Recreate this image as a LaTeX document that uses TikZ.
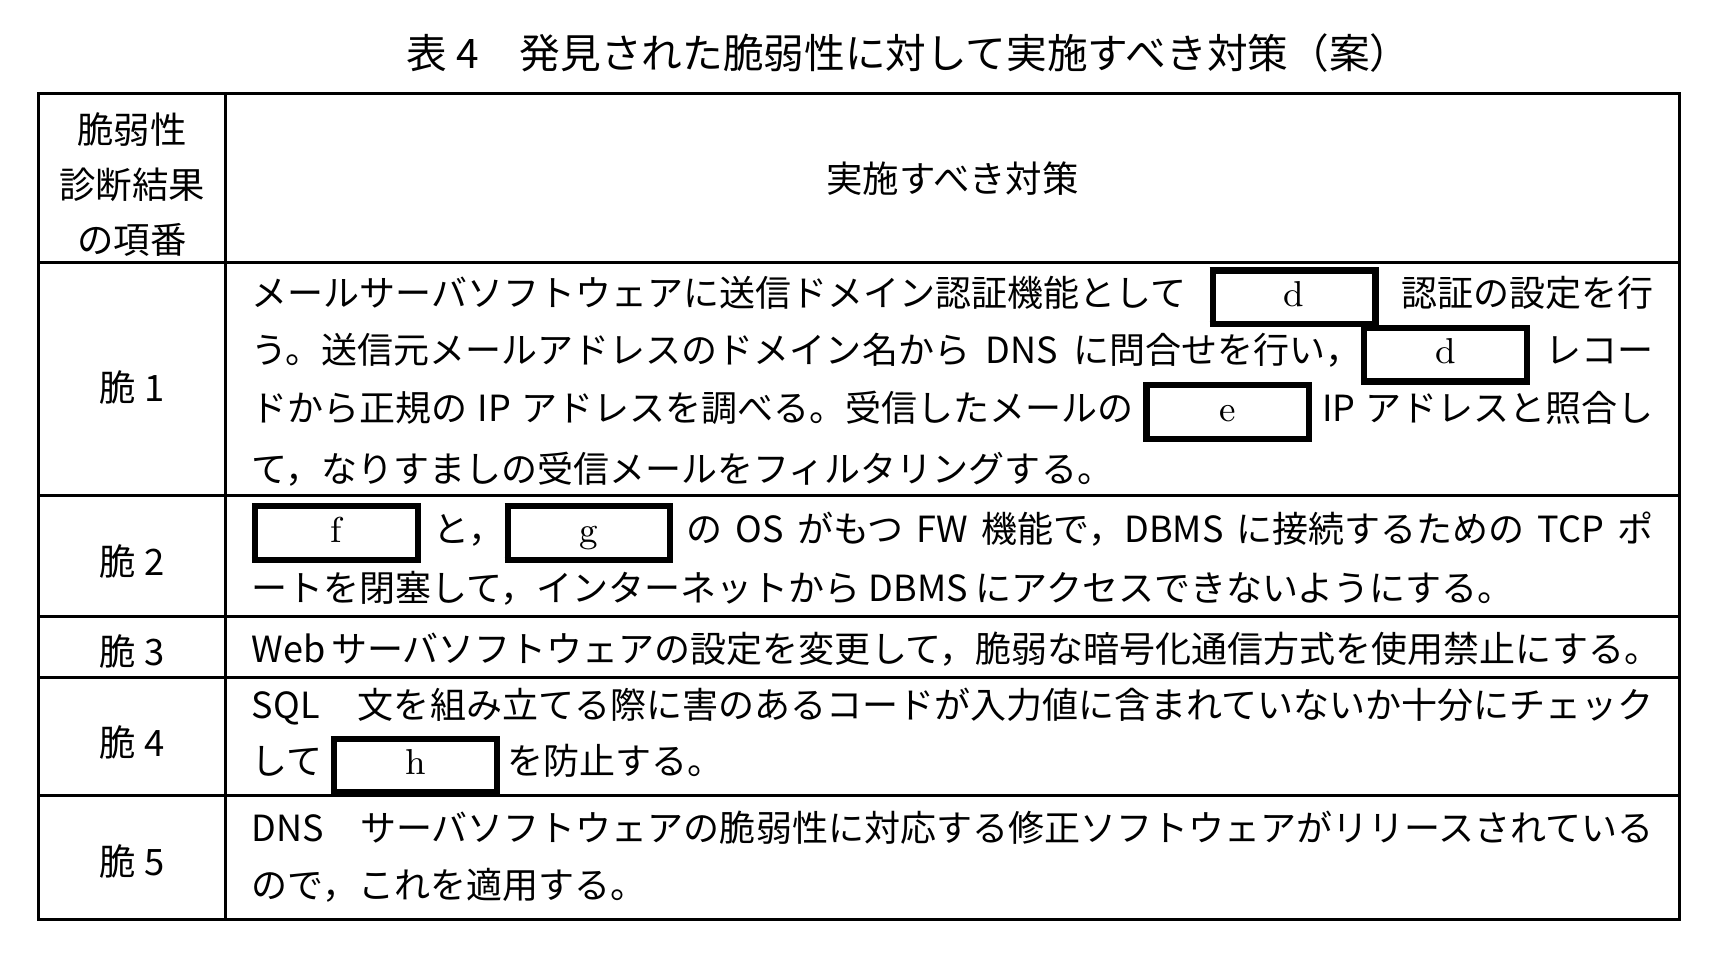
\documentclass[tikz,border=0pt]{standalone}
\usepackage{fontspec}
\setmainfont{Noto Sans CJK JP}
\newfontfamily\lmr{Latin Modern Roman}
\XeTeXlinebreaklocale "ja"
\XeTeXlinebreakskip=0pt plus 2pt
\usetikzlibrary{positioning}
\setlength\fboxrule{1.6pt}
\setlength\fboxsep{0pt}
\newcommand\blank[1]{\fbox{\rule[-0.13cm]{0pt}{0.43cm}\makebox[1.42cm]{\lmr #1}}}
\newcommand\fline[1]{\makebox[12.72cm][s]{#1}}
\tikzset{
	cell/.style={anchor=west,inner sep=0pt,font=\fontsize{9.3pt}{11pt}\selectfont},
	head/.style={inner sep=0pt,font=\fontsize{9.4pt}{11pt}\selectfont,align=center}
}
\begin{document}
\begin{tikzpicture}[x=0.01cm,y=-0.01cm]
				\useasboundingbox (0,0) rectangle (1560,866);
				\node[head,font=\fontsize{10.5pt}{12pt}\selectfont] (title) at (825,48) {表 4\quad 発見された脆弱性に対して実施すべき対策（案）};
				% table frame
				\draw[thick] (35,85) rectangle (1525,835);
				\draw[thick] (205,85) -- (205,835);
				\foreach \yy in {238,450,560,615,722}
					\draw[thick] (35,\yy) -- (1525,\yy);
				% headings
				\node[head,font=\fontsize{9.4pt}{14.2pt}\selectfont] (h1) at (120,168) {脆弱性\\診断結果\\の項番};
				\node[head] (h2) at (865,162) {実施すべき対策};
				\node[head] (v1) at (120,352) {脆 1};
				\node[head] (v2) at (120,510) {脆 2};
				\node[head] (v3) at (120,592) {脆 3};
				\node[head] (v4) at (120,674) {脆 4};
				\node[head] (v5) at (120,782) {脆 5};
				% row 1
				\node[cell] (r1a) at (228,270) {\fline{メールサーバソフトウェアに送信ドメイン認証機能として \blank{d} 認証の設定を行}};
				\node[cell] (r1b) at (228,322) {\fline{う。送信元メールアドレスのドメイン名から DNS に問合せを行い，\blank{d} レコー}};
				\node[cell] (r1c) at (228,374) {\fline{ドから正規の IP アドレスを調べる。受信したメールの \blank{e} IP アドレスと照合し}};
				\node[cell] (r1d) at (228,426) {て，なりすましの受信メールをフィルタリングする。};
				% row 2
				\node[cell] (r2a) at (228,484) {\fline{\blank{f} と，\blank{g} の OS がもつ FW 機能で，DBMS に接続するための TCP ポ}};
				\node[cell] (r2b) at (228,534) {ートを閉塞して，インターネットから DBMS にアクセスできないようにする。};
				% row 3
				\node[cell] (r3a) at (228,589) {\fline{Web サーバソフトウェアの設定を変更して，脆弱な暗号化通信方式を使用禁止にする。}};
				% row 4
				\node[cell] (r4a) at (228,642) {\fline{SQL 文を組み立てる際に害のあるコードが入力値に含まれていないか十分にチェック}};
				\node[cell] (r4b) at (228,695) {して \blank{h} を防止する。};
				% row 5
				\node[cell] (r5a) at (228,752) {\fline{DNS サーバソフトウェアの脆弱性に対応する修正ソフトウェアがリリースされている}};
				\node[cell] (r5b) at (228,804) {ので，これを適用する。};
\end{tikzpicture}
\end{document}
